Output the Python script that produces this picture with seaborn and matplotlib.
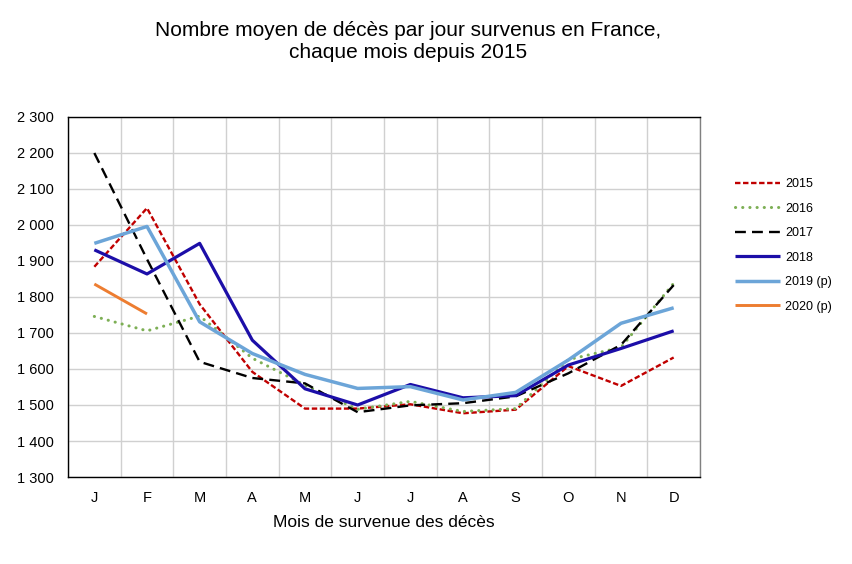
import numpy as np
import pandas as pd
import matplotlib
matplotlib.use("Agg")
import matplotlib.pyplot as plt
import seaborn as sns
from matplotlib.ticker import FuncFormatter, FixedLocator

months = ["J", "F", "M", "A", "M", "J", "J", "A", "S", "O", "N", "D"]
y2015 = [1884, 2047, 1780, 1592, 1490, 1490, 1502, 1477, 1487, 1608, 1553, 1632]
y2016 = [1746, 1706, 1747, 1630, 1555, 1488, 1510, 1482, 1490, 1626, 1660, 1838]
y2017 = [2200, 1905, 1620, 1575, 1560, 1480, 1499, 1505, 1524, 1588, 1667, 1833]
y2018 = [1931, 1864, 1949, 1680, 1545, 1500, 1557, 1520, 1526, 1611, 1657, 1706]
y2019 = [1949, 1996, 1731, 1643, 1585, 1546, 1551, 1514, 1535, 1625, 1727, 1770]
y2020 = [1836, 1753]
series_names = ["2015", "2016", "2017", "2018", "2019 (p)", "2020 (p)"]
series_vals = [y2015, y2016, y2017, y2018, y2019, y2020]

styles = {
    "2015": dict(color="#C00000", lw=1.7, dashes=(2.3, 1.1), cap="butt"),
    "2016": dict(color="#7DAF55", lw=2.2, dashes=(0.05, 2.3), cap="round"),
    "2017": dict(color="#000000", lw=1.7, dashes=(4.6, 2.6), cap="butt"),
    "2018": dict(color="#1C0EA8", lw=2.3, dashes=None, cap=None),
    "2019 (p)": dict(color="#6CA5D8", lw=2.5, dashes=None, cap=None),
    "2020 (p)": dict(color="#ED7D31", lw=2.1, dashes=None, cap=None),
}

sns.set_style("white")
plt.rcParams["font.family"] = ["Liberation Sans", "DejaVu Sans"]
plt.rcParams["text.color"] = "black"
plt.rcParams["axes.labelcolor"] = "black"
plt.rcParams["xtick.color"] = "black"
plt.rcParams["ytick.color"] = "black"

fig = plt.figure(figsize=(8.52, 5.64), dpi=100)
ax = fig.add_axes([68 / 852, 1 - 477 / 564, (700 - 68) / 852, (477 - 117) / 564])

for name, vals in zip(series_names, series_vals):
    df = pd.DataFrame({"x": np.arange(len(vals)), "y": vals})
    st = styles[name]
    sns.lineplot(data=df, x="x", y="y", ax=ax, color=st["color"], linewidth=st["lw"],
                 label=name, solid_capstyle="butt")
    line = ax.get_lines()[-1]
    if st["dashes"] is not None:
        line.set_dashes(st["dashes"])
        line.set_dash_capstyle(st["cap"])

ax.set_xlim(-0.5, 11.5)
ax.set_ylim(1300, 2300)
ax.set_yticks(np.arange(1300, 2301, 100))
ax.yaxis.set_major_formatter(FuncFormatter(lambda v, p: f"{int(v):,}".replace(",", " ")))
ax.set_xticks(np.arange(12))
ax.set_xticklabels(months)
ax.xaxis.set_minor_locator(FixedLocator(np.arange(-0.5, 12, 1)))
ax.tick_params(axis="x", which="major", length=0, labelsize=10.5, pad=10, labelcolor="black")
ax.tick_params(axis="x", which="minor", length=5, width=1, color="black", direction="out")
ax.tick_params(axis="y", which="major", length=6, width=1, color="black", direction="out",
               labelsize=10.5, pad=4, labelcolor="black")
ax.grid(False)
ax.yaxis.grid(True, color="#D0D0D0", linewidth=1)
ax.xaxis.grid(True, which="minor", color="#D0D0D0", linewidth=1)
ax.set_axisbelow(True)
for sp in ax.spines.values():
    sp.set_color("black")
    sp.set_linewidth(1)
ax.spines["right"].set_color("#808080")

ax.set_xlabel("Mois de survenue des décès", fontsize=12.5, labelpad=7, color="black")
ax.set_ylabel("")

leg = ax.legend(loc="upper left", bbox_to_anchor=(724 / 852, 1 - 167 / 564),
                bbox_transform=fig.transFigure, frameon=False, fontsize=9,
                handlelength=3.6, handletextpad=0.4, labelspacing=1.0)
for t in leg.get_texts():
    t.set_color("black")

fig.text(408 / 852, 1 - 31 / 564, "Nombre moyen de décès par jour survenus en France,",
         ha="center", va="center", fontsize=15, color="black")
fig.text(408 / 852, 1 - 53 / 564, "chaque mois depuis 2015",
         ha="center", va="center", fontsize=15, color="black")

fig.savefig("out.png", dpi=100, facecolor="white")
